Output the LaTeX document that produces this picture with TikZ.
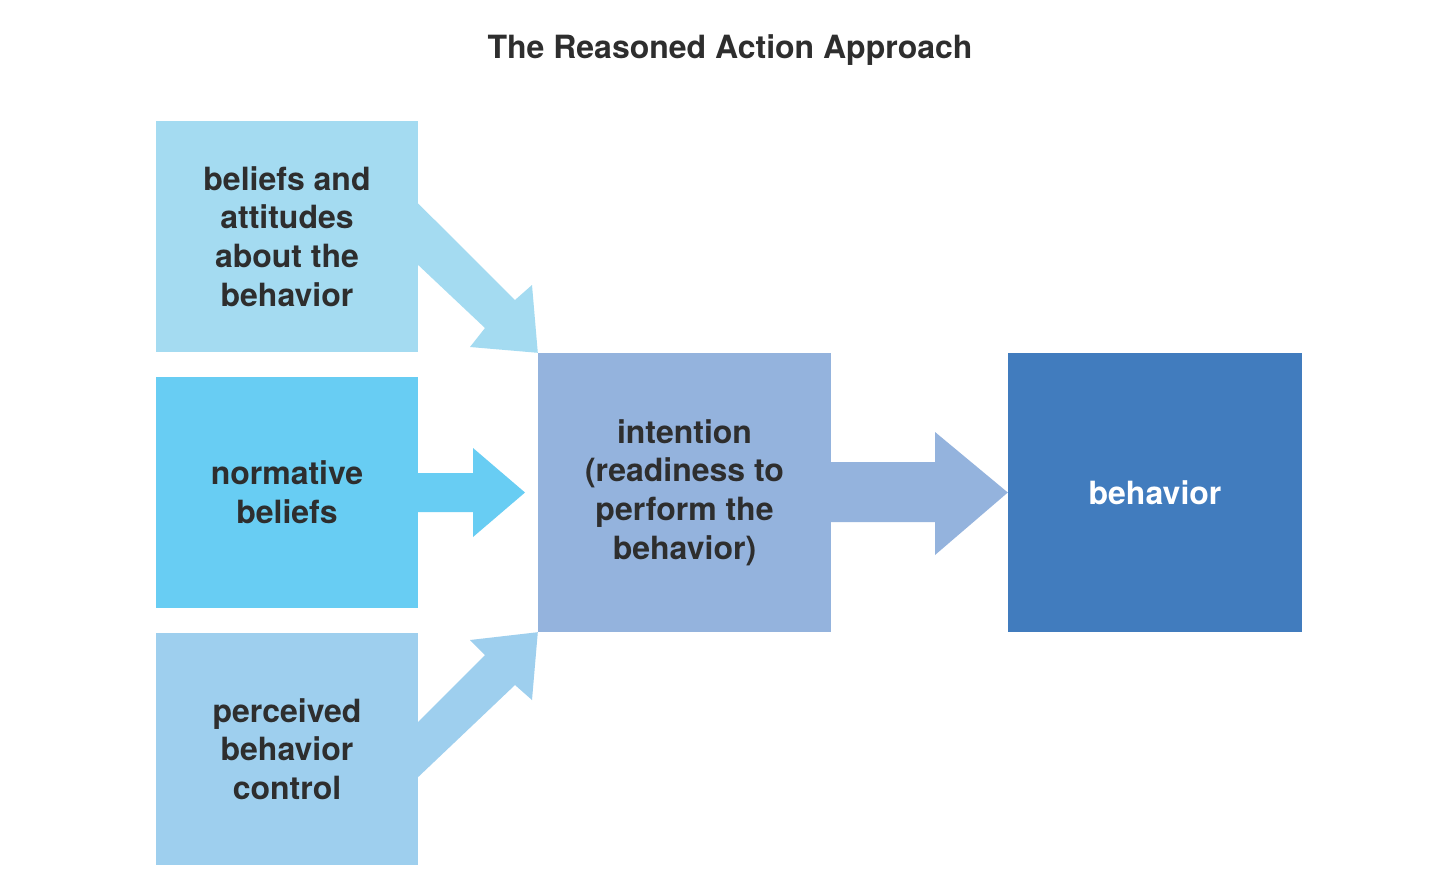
\documentclass[tikz,border=0pt]{standalone}
\usepackage{fontspec}
\setmainfont{TeX Gyre Heros}
\usetikzlibrary{calc}
\definecolor{cA}{HTML}{A4DBF1}
\definecolor{cB}{HTML}{68CDF3}
\definecolor{cC}{HTML}{9ECFEE}
\definecolor{cI}{HTML}{94B3DD}
\definecolor{cD}{HTML}{417CBE}
\definecolor{txt}{HTML}{2E2E2E}
\begin{document}
\begin{tikzpicture}[x=1pt,y=-1pt,
  box/.style={inner sep=0pt, align=center, text=txt,
    font=\fontsize{32}{38.6}\selectfont\bfseries},
  ttl/.style={text=txt, font=\fontsize{32}{36}\selectfont\bfseries}]
\useasboundingbox[fill=white] (0,0) rectangle (1440,892);
\node[ttl] (title) at (730,50) {The Reasoned Action Approach};
\node[box, fill=cA, minimum width=262pt, minimum height=231pt] (b1) at (287,236.5) {beliefs and\\attitudes\\about the\\behavior};
\node[box, fill=cB, minimum width=262pt, minimum height=231pt] (b2) at (287,492.5) {normative\\beliefs};
\node[box, fill=cC, minimum width=262pt, minimum height=232pt] (b3) at (287,749) {perceived\\behavior\\control};
\node[box, fill=cI, minimum width=293pt, minimum height=279pt] (int) at (684.5,492.5) {intention\\(readiness to\\perform the\\behavior)};
\node[box, fill=cD, text=white, minimum width=294pt, minimum height=279pt] (beh) at (1155,492.5) {behavior};
% arrows
\fill[cA] ($(b1.east)+(0,-33)$) -- (515,300) -- (532,285) -- (int.north west) -- (470,347) -- (485,328) -- ($(b1.east)+(0,28.5)$) -- cycle;
\fill[cB] ($(b2.east)+(0,-19.5)$) -- (473,473) -- (473,448) -- (525,492.5) -- (473,537) -- (473,512) -- ($(b2.east)+(0,19.5)$) -- cycle;
\fill[cC] ($(b3.east)+(0,-27)$) -- (485,655) -- (470,640) -- (int.south west) -- (532,700) -- (515,685) -- ($(b3.east)+(0,28)$) -- cycle;
\fill[cI] ($(int.east)+(0,-30.5)$) -- (935,462) -- (935,432) -- (beh.west) -- (935,555) -- (935,522) -- ($(int.east)+(0,29.5)$) -- cycle;
\end{tikzpicture}
\end{document}
